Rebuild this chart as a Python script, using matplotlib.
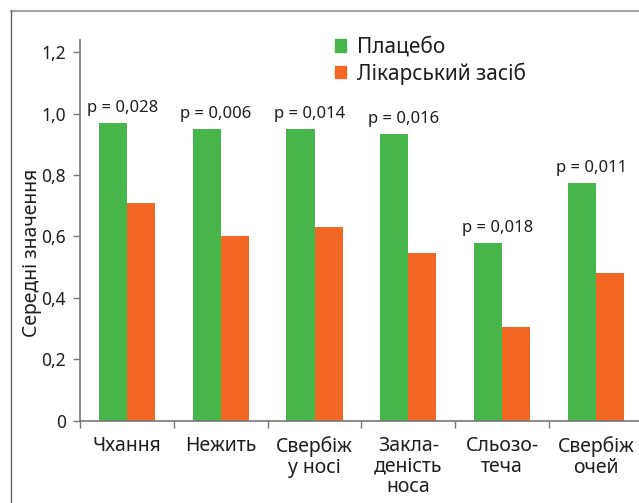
import matplotlib
matplotlib.use("Agg")
import matplotlib.pyplot as plt
from matplotlib.patches import Patch
from matplotlib.lines import Line2D
import numpy as np

plt.rcParams['font.family'] = ['Noto Sans', 'DejaVu Sans']

# data
categories = ["Чхання", "Нежить", "Свербіж\nу носі", "Закла-\nденість\nноса",
              "Сльозо-\nтеча", "Свербіж\nочей"]
placebo = [0.97, 0.95, 0.95, 0.935, 0.58, 0.775]
drug = [0.71, 0.60, 0.63, 0.545, 0.305, 0.48]
p_values = ["p = 0,028", "p = 0,006", "p = 0,014", "p = 0,016", "p = 0,018", "p = 0,011"]
yticks = [0, 0.2, 0.4, 0.6, 0.8, 1.0, 1.2]
ytick_labels = ["0", "0,2", "0,4", "0,6", "0,8", "1,0", "1,2"]

green = "#46B54A"
orange = "#F26724"
text_col = "#1E1E1E"
spine_col = "#777777"

W, H = 639, 503
fig = plt.figure(figsize=(W / 100, H / 100), dpi=100)
ax = fig.add_axes([80 / W, (H - 420.7) / H, (W - 80) / W, (420.7 - 40) / H])

x = np.arange(len(categories))
bw = 0.3
ax.bar(x - bw / 2, placebo, bw, color=green, zorder=2)
ax.bar(x + bw / 2, drug, bw, color=orange, zorder=2)

for xi, v, p in zip(x, placebo, p_values):
    ax.annotate(p, (xi - 0.05, v), xytext=(0, 5), textcoords="offset points",
                ha="center", va="bottom", fontsize=12, color=text_col)

ax.set_xlim(-0.5, -0.5 + (W - 80) / 93.8)
ax.set_ylim(0, 1.24)
ax.set_yticks(yticks)
ax.set_yticklabels(ytick_labels)
ax.set_xticks(x)
ax.set_xticklabels(categories, fontsize=14, color=text_col, linespacing=1.05, va="top")
ax.set_xticks(np.arange(len(categories)) - 0.5, minor=True)
ax.tick_params(axis="x", which="major", length=0, pad=11)
ax.tick_params(axis="x", which="minor", length=5, width=1, color=spine_col, direction="out")
ax.tick_params(axis="y", length=5, width=1, color=spine_col, labelsize=12.5,
               labelcolor=text_col, pad=5)

for s in ["top", "right"]:
    ax.spines[s].set_visible(False)
for s in ["left", "bottom"]:
    ax.spines[s].set_color(spine_col)
    ax.spines[s].set_linewidth(1.2)

ax.set_ylabel("Середні значення", fontsize=14, color=text_col)
ax.yaxis.set_label_coords(-0.068, 0.44)

handles = [Patch(color=green, label="Плацебо"), Patch(color=orange, label="Лікарський засіб")]
fig.legend(handles=handles, loc="upper left", bbox_to_anchor=(335 / W, 1 - 37 / H),
           frameon=False, fontsize=15, handlelength=0.55, handleheight=0.55,
           handletextpad=0.5, labelspacing=0.2, borderpad=0, borderaxespad=0,
           labelcolor=text_col)

# frame lines around the figure
fig.add_artist(Line2D([11 / W, 1], [1 - 11 / H, 1 - 11 / H], color="#A8A8A8", lw=1.6))
fig.add_artist(Line2D([11 / W, 11 / W], [0, 1 - 11 / H], color="#555555", lw=0.9))

fig.savefig("out.png", dpi=100)
